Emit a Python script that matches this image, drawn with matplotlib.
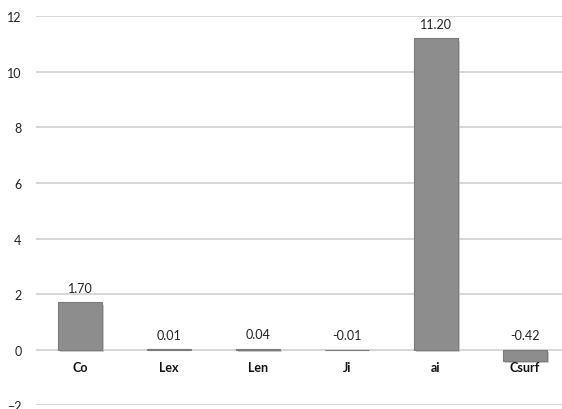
import matplotlib
matplotlib.use("Agg")
import matplotlib.pyplot as plt
import matplotlib.patheffects as pe

# parameter effects
params = ["Co", "Lex", "Len", "Ji", "ai", "Csurf"]
effects = [1.70, 0.01, 0.04, -0.01, 11.20, -0.42]
yticks = [-2, 0, 2, 4, 6, 8, 10, 12]

plt.rcParams['font.family'] = ['Lato', 'DejaVu Sans']

fig = plt.figure(figsize=(5.62, 4.10), dpi=100)
ax = fig.add_axes([0.0632, 0.009, 0.950, 0.949])

x = list(range(len(params)))
bars = ax.bar(x, effects, width=0.5, color='#8d8d8d', edgecolor='#7b7b7b',
              linewidth=0.8, zorder=3)
for b in bars:
    b.set_path_effects([pe.SimplePatchShadow(offset=(1.5, -1.5), shadow_rgbFace='#b8b8b8', alpha=0.7),
                        pe.Normal()])

# value labels: positive above the bar top, negative just above zero
for xi, v in zip(x, effects):
    top = max(v, 0)
    ax.annotate('%.2f' % v, (xi, top), xytext=(0, 6), textcoords='offset points',
                ha='center', va='bottom', fontsize=9, color='#222222')

# category labels just under the zero line
for xi, name in zip(x, params):
    ax.annotate(name, (xi, 0), xytext=(0, -8), textcoords='offset points',
                ha='center', va='top', fontsize=9, fontweight='bold', color='#111111')

ax.set_xlim(-0.5, 5.5)
ax.set_ylim(-2, 12)
ax.set_yticks(yticks)
ax.set_xticks([])
ax.yaxis.grid(True, color='#cfcfcf', linewidth=1.2, zorder=0)
ax.tick_params(axis='y', length=0, pad=10, labelsize=9, labelcolor='#222222')
for s in ax.spines.values():
    s.set_visible(False)

fig.savefig('out.png', dpi=100)
